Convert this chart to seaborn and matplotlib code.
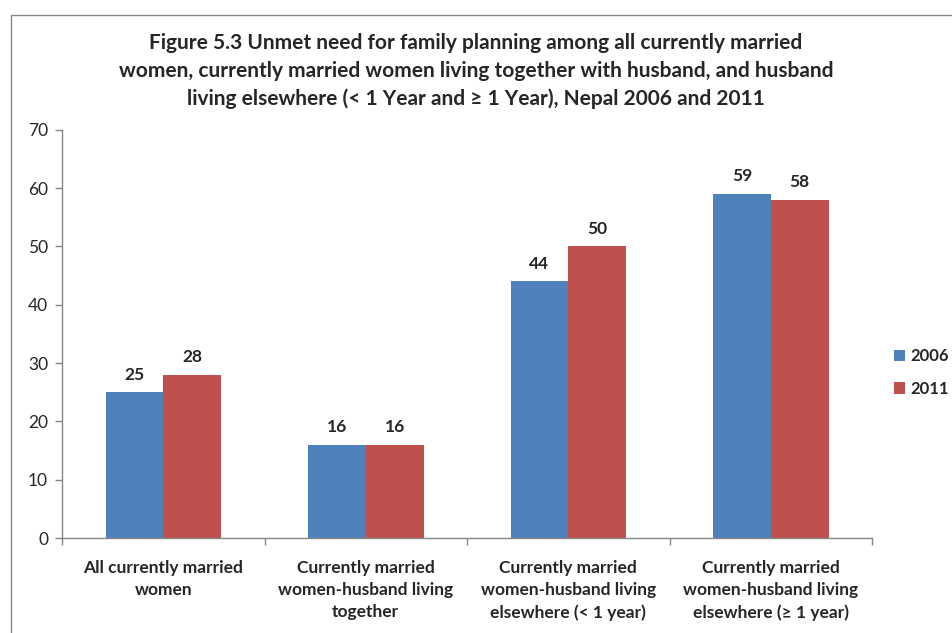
import matplotlib
matplotlib.use("Agg")
import matplotlib.pyplot as plt
import pandas as pd
import seaborn as sns

categories = [
    "All currently married\nwomen",
    "Currently married\nwomen-husband living\ntogether",
    "Currently married\nwomen-husband living\nelsewhere (< 1 year)",
    "Currently married\nwomen-husband living\nelsewhere (\u2265 1 year)",
]
years = ["2006", "2011"]
values_2006 = [25, 16, 44, 59]
values_2011 = [28, 16, 50, 58]

df = pd.DataFrame({
    "Category": categories * 2,
    "Year": [years[0]] * 4 + [years[1]] * 4,
    "Value": values_2006 + values_2011,
})

sns.set_style("white")
plt.rcParams["font.family"] = ["Lato", "DejaVu Sans"]

fig = plt.figure(figsize=(9.52, 6.33), dpi=100)
ax = fig.add_axes([0.0651, 0.150, 0.851, 0.645])

palette = {"2006": "#4F81BD", "2011": "#C0504D"}
sns.barplot(data=df, x="Category", y="Value", hue="Year", palette=palette,
            width=0.57, gap=0, saturation=1, ax=ax, linewidth=0)

for c in ax.containers:
    ax.bar_label(c, fmt="%g", padding=7, fontsize=12.5, fontweight="bold")

ax.set_ylim(0, 70)
ax.set_xlim(-0.5, 3.5)
ax.set_yticks(range(0, 71, 10))
ax.set_xlabel("")
ax.set_ylabel("")
ax.tick_params(axis="y", labelsize=12.5, length=5, width=1, color="#868686",
               left=True, pad=5)
ax.tick_params(axis="x", which="major", length=0, labelsize=12.5, pad=16)
ax.set_xticks([-0.5, 0.5, 1.5, 2.5, 3.5], minor=True)
ax.tick_params(axis="x", which="minor", length=5, width=1, color="#868686",
               bottom=True)
for lab in ax.get_xticklabels():
    lab.set_fontweight("bold")
    lab.set_linespacing(1.45)

for s in ["top", "right"]:
    ax.spines[s].set_visible(False)
for s in ["left", "bottom"]:
    ax.spines[s].set_color("#868686")
    ax.spines[s].set_linewidth(1)

leg = ax.legend(loc="center left", bbox_to_anchor=(1.012, 0.405), frameon=False,
                handlelength=0.7, handleheight=0.7, handletextpad=0.3,
                labelspacing=1.0, fontsize=12, borderaxespad=0.3)
for t in leg.get_texts():
    t.set_fontweight("bold")

fig.text(0.5, 1 - 71 / 633,
         "Figure 5.3 Unmet need for family planning among all currently married\n"
         "women, currently married women living together with husband, and husband\n"
         "living elsewhere (< 1 Year and \u2265 1 Year), Nepal 2006 and 2011",
         ha="center", va="center", fontsize=15, fontweight="bold",
         linespacing=1.5)

border = plt.Rectangle((11 / 952, -0.1), 1.2, 1 - 15 / 633 + 0.1,
                       transform=fig.transFigure, fill=False,
                       edgecolor="#868686", linewidth=1)
fig.patches.append(border)

fig.savefig("out.png", dpi=100)
